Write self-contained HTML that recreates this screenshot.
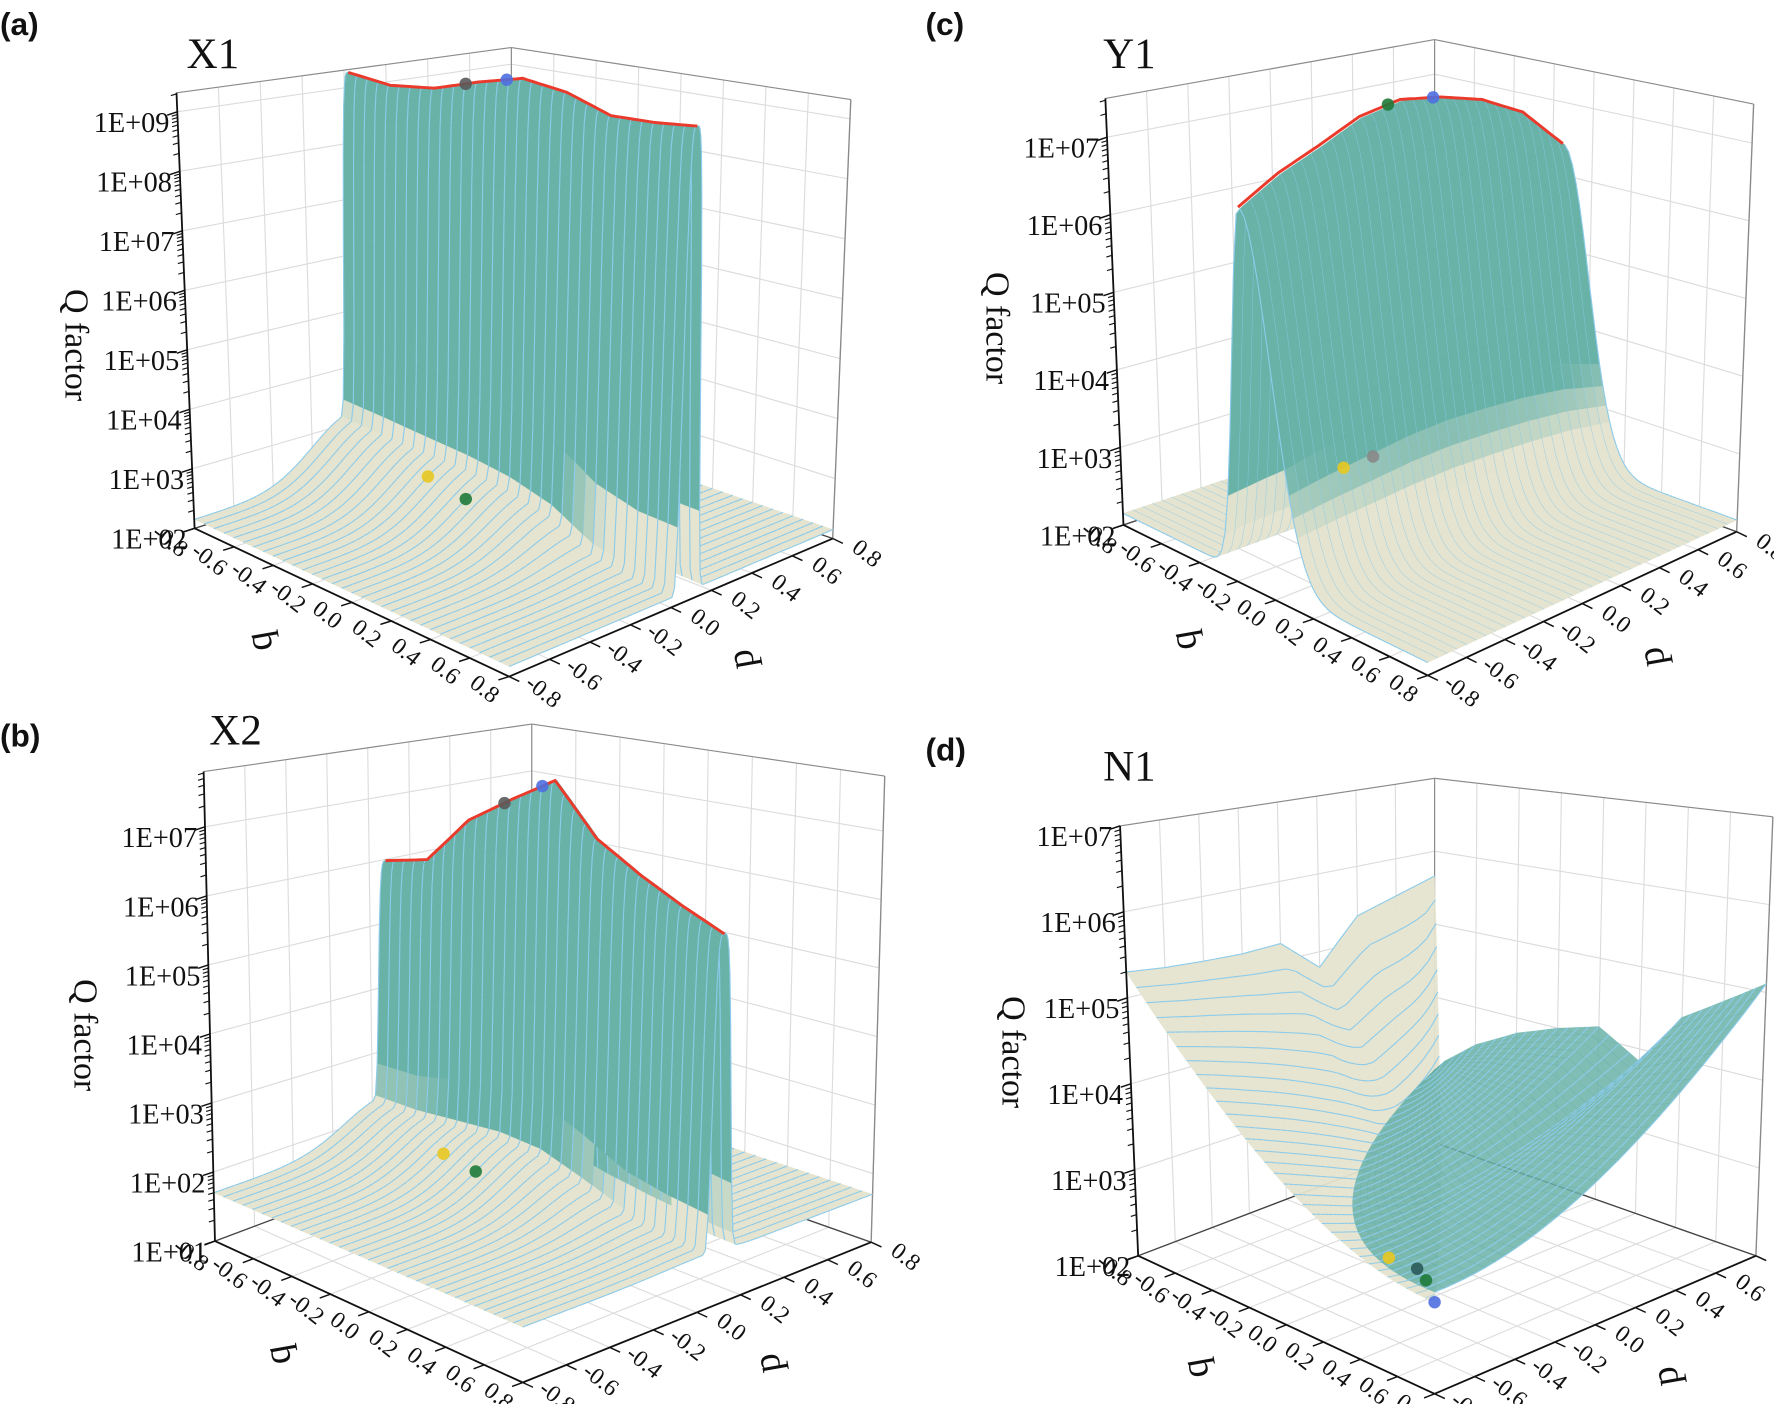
<!DOCTYPE html>
<html><head><meta charset="utf-8">
<style>
html,body{margin:0;padding:0;background:#fff;}
svg{display:block}
text{font-family:"Liberation Serif",serif;fill:#111;}
.lab{font-family:"Liberation Sans",sans-serif;font-weight:bold;font-size:28px;}
.ttl{font-size:38px;}
.qf{font-size:30px;}
</style></head>
<body>
<svg id="fig" width="1774" height="1404" viewBox="0 0 1568 1241" preserveAspectRatio="none" xmlns="http://www.w3.org/2000/svg">
<rect x="0" y="0" width="1568" height="1241" fill="#fff"/>
<g id="pa"></g>
<g id="pb"></g>
<g id="pc"></g>
<g id="pd"></g>
<text class="lab" x="0" y="31">(a)</text>
<text class="lab" x="0" y="660">(b)</text>
<text class="lab" x="818" y="31">(c)</text>
<text class="lab" x="818" y="672">(d)</text>
<text class="ttl" x="165" y="60">X1</text>
<text class="ttl" x="185" y="658">X2</text>
<text class="ttl" x="975" y="60">Y1</text>
<text class="ttl" x="975" y="690">N1</text>
<text class="qf" text-anchor="middle" transform="translate(58,305) rotate(90)">Q factor</text>
<text class="qf" text-anchor="middle" transform="translate(66,915) rotate(90)">Q factor</text>
<text class="qf" text-anchor="middle" transform="translate(872,290) rotate(90)">Q factor</text>
<text class="qf" text-anchor="middle" transform="translate(886,930) rotate(90)">Q factor</text>
</svg>
<script>
const NS='http://www.w3.org/2000/svg';

// ---- shared axis data ----
const qTickVals=[-0.8,-0.6,-0.4,-0.2,0,0.2,0.4,0.6,0.8];
const qTickLabels=['-0.8','-0.6','-0.4','-0.2','0.0','0.2','0.4','0.6','0.8'];
const pTickVals=[-0.8,-0.6,-0.4,-0.2,0,0.2,0.4,0.6,0.8];
const pTickLabels=['-0.8','-0.6','-0.4','-0.2','0.0','0.2','0.4','0.6','0.8'];

// ---- panel a (X1) ----
const aZTickVals=[2,3,4,5,6,7,8,9];
const aZTickLabels=['1E+02','1E+03','1E+04','1E+05','1E+06','1E+07','1E+08','1E+09'];
const aRidgeQ=[-0.8,-0.6,-0.4,-0.2,0,0.2,0.4,0.6,0.8];
const aRidgeZ=[9.27,9.2,9.3,9.55,9.75,9.65,9.4,9.42,9.5];
const aRidgeP=[0.02,0.02,0.03,0.04,0.05,0.06,0.07,0.08,0.08];
const aSkirtZ=[3.2,3.15,3.1,3.05,2.95,2.75,2.35,2.2,2.15];
const aFloorZ=2.15;
const aMarkerQ=[-0.26,-0.07,-0.3,-0.1];
const aMarkerP=[0.04,0.045,-0.12,-0.13];
const aMarkerColor=['#5a5a5a','#4f6fe0','#e8c820','#1f7a3a'];

// ---- panel b (X2) ----
const bZTickVals=[1,2,3,4,5,6,7];
const bZTickLabels=['1E+01','1E+02','1E+03','1E+04','1E+05','1E+06','1E+07'];
const bRidgeQ=[-0.8,-0.6,-0.4,-0.2,0,0.2,0.4,0.6,0.8];
const bRidgeZ=[5.98,6.15,6.9,7.34,7.73,7.0,6.6,6.3,6.05];
const bRidgeP=[0.08,0.08,0.08,0.09,0.09,0.09,0.1,0.1,0.1];
const bSkirtZ=[2.3,2.3,2.35,2.4,2.35,2.15,1.9,1.8,1.75];
const bFloorZ=1.7;
const bMarkerQ=[-0.24,-0.06,-0.33,-0.15];
const bMarkerP=[0.09,0.09,-0.12,-0.14];
const bMarkerColor=['#5a5a5a','#4f6fe0','#e8c820','#1f7a3a'];

// ---- panel c (Y1) ----
const cZTickVals=[2,3,4,5,6,7];
const cZTickLabels=['1E+02','1E+03','1E+04','1E+05','1E+06','1E+07'];
const cRidgeP=[-0.8,-0.6,-0.4,-0.2,0,0.2,0.4,0.6,0.8];
const cRidgeZ=[6.68,6.98,7.2,7.45,7.55,7.46,7.3,7.0,6.43];
const cRidgeQ=-0.15;
const cFloorZ=2.15;
const cMarkerQ=[-0.15,-0.15,-0.25,-0.25];
const cMarkerP=[-0.06,0.16,-0.2,-0.05];
const cMarkerColor=['#1f7a3a','#4f6fe0','#e8c820','#888888'];

// ---- panel d (N1) ----
const dZTickVals=[2,3,4,5,6,7];
const dZTickLabels=['1E+02','1E+03','1E+04','1E+05','1E+06','1E+07'];
const dBeigeEdgeP=[-0.8,-0.6,-0.4,-0.2,0,0.2,0.4,0.6,0.8];
const dBeigeEdgeZ=[5.3,5.25,5.22,5.2,5.22,4.8,5.35,5.5,5.66];
const dTealEdgeQ=[-0.8,-0.6,-0.4,-0.2,0,0.2,0.4,0.6,0.8];
const dTealEdgeZ=[3.05,3.5,3.8,4.0,4.15,3.85,4.5,4.8,5.1];
const dMinZ=2.9;
const dValleyZ=3.0;
const dBoundaryPow=2.2;
const dMarkerQ=[0.45,0.6,0.7,0.8];
const dMarkerP=[-0.7,-0.7,-0.75,-0.8];
const dMarkerColor=['#e8c820','#2a5a5a','#1f7a3a','#4f6fe0'];

// ---- geometry (layout only) ----
function geom(o){
  const r=o.zTop-o.zMin;
  o.hL=(o.L[1]-o.Lt[1])/r;o.dL=(o.Lt[0]-o.L[0])/r;
  o.hB=(o.B[1]-o.Bt[1])/r;o.dB=(o.Bt[0]-o.B[0])/r;
  o.hR=(o.R[1]-o.Rt[1])/r;o.dR=(o.Rt[0]-o.R[0])/r;
  o.dF=0;return o;
}
const geomA=geom({L:[172,467],Lt:[156,82],B:[452,378],Bt:[452,42],R:[736,476],Rt:[752,88],F:[450,598],hF:59.5,zMin:2,zTop:9.32});
const geomB=geom({L:[190,1097],Lt:[180,682],B:[470,992],Bt:[470,640],R:[770,1098],Rt:[782,686],F:[462,1222],hF:70,zMin:1,zTop:7.8});
const geomC=geom({L:[993,464],Lt:[977,87],B:[1268,372],Bt:[1268,35],R:[1535,470],Rt:[1550,92],F:[1262,597],hF:76,zMin:2,zTop:7.5});
const geomD=geom({L:[1006,1110],Lt:[990,730],B:[1268,1010],Bt:[1268,688],R:[1552,1110],Rt:[1567,722],F:[1268,1232],hF:90,zMin:2,zTop:7});

function lin(xs,ys,x){
  if(x<=xs[0])return ys[0];
  for(let k=1;k<xs.length;k++){
    if(x<=xs[k]){const t=(x-xs[k-1])/(xs[k]-xs[k-1]);return ys[k-1]+t*(ys[k]-ys[k-1]);}
  }
  return ys[ys.length-1];
}
function clamp(x){return Math.max(0,Math.min(1,x));}

function mk(tag,parent,name){
  const el=document.createElementNS(NS,tag);
  
  
  parent.appendChild(el);
  return el;
}
function set(el,o){for(const k in o)el.setAttribute(k,o[k]);return el;}

function proj(g,q,p,z){
  const u=(q+0.8)/1.6,v=(p+0.8)/1.6;
  const wL=(1-u)*(1-v),wF=u*(1-v),wR=u*v,wB=(1-u)*v;
  const x=wL*g.L[0]+wF*g.F[0]+wR*g.R[0]+wB*g.B[0];
  const y0=wL*g.L[1]+wF*g.F[1]+wR*g.R[1]+wB*g.B[1];
  const h=wL*g.hL+wF*g.hF+wR*g.hR+wB*g.hB;
  const dx=wL*g.dL+wF*g.dF+wR*g.dR+wB*g.dB;
  const dz=z-g.zMin;
  return [x+dz*dx,y0-dz*h];
}
function seg(parent,name,a,b,stroke,w){
  return set(mk('line',parent,name),{x1:a[0].toFixed(1),y1:a[1].toFixed(1),x2:b[0].toFixed(1),y2:b[1].toFixed(1),stroke:stroke,'stroke-width':w});
}
function pts(arr){return arr.map(p=>p[0].toFixed(1)+','+p[1].toFixed(1)).join(' ');}

function drawBox(root,g,zVals){
  const z0=g.zMin,zt=g.zTop;
  const box=mk('g',root,'axes-box');
  set(mk('polygon',box,'left-back-wall'),{points:pts([proj(g,-0.8,-0.8,z0),proj(g,-0.8,0.8,z0),proj(g,-0.8,0.8,zt),proj(g,-0.8,-0.8,zt)]),fill:'#fff'});
  set(mk('polygon',box,'right-back-wall'),{points:pts([proj(g,-0.8,0.8,z0),proj(g,0.8,0.8,z0),proj(g,0.8,0.8,zt),proj(g,-0.8,0.8,zt)]),fill:'#fff'});
  const gc='#dcdcdc';
  for(let i=0;i<pTickVals.length;i++){
    seg(box,'left-wall-gridline',proj(g,-0.8,pTickVals[i],z0),proj(g,-0.8,pTickVals[i],zt),gc,1);
    seg(box,'floor-gridline',proj(g,-0.8,pTickVals[i],z0),proj(g,0.8,pTickVals[i],z0),gc,1);
  }
  for(let i=0;i<qTickVals.length;i++){
    seg(box,'right-wall-gridline',proj(g,qTickVals[i],0.8,z0),proj(g,qTickVals[i],0.8,zt),gc,1);
    seg(box,'floor-gridline',proj(g,qTickVals[i],-0.8,z0),proj(g,qTickVals[i],0.8,z0),gc,1);
  }
  for(let i=0;i<zVals.length;i++){
    seg(box,'left-wall-gridline',proj(g,-0.8,-0.8,zVals[i]),proj(g,-0.8,0.8,zVals[i]),gc,1);
    seg(box,'right-wall-gridline',proj(g,-0.8,0.8,zVals[i]),proj(g,0.8,0.8,zVals[i]),gc,1);
  }
  const ec='#8a8a8a';
  seg(box,'back-edge',proj(g,-0.8,0.8,z0),proj(g,-0.8,0.8,zt),ec,1);
  seg(box,'right-edge',proj(g,0.8,0.8,z0),proj(g,0.8,0.8,zt),ec,1.2);
  seg(box,'top-edge',proj(g,-0.8,-0.8,zt),proj(g,-0.8,0.8,zt),ec,1);
  seg(box,'top-edge',proj(g,-0.8,0.8,zt),proj(g,0.8,0.8,zt),ec,1);
  seg(box,'floor-back-edge',proj(g,-0.8,-0.8,z0),proj(g,-0.8,0.8,z0),'#444',1.2);
  seg(box,'floor-back-edge',proj(g,-0.8,0.8,z0),proj(g,0.8,0.8,z0),'#444',1.2);
}

function drawAxes(root,g,zVals,zLabels){
  const z0=g.zMin,zt=g.zTop;
  const ax=mk('g',root,'axes');
  seg(ax,'z-axis-line',proj(g,-0.8,-0.8,z0),proj(g,-0.8,-0.8,zt),'#111',1.6);
  seg(ax,'q-axis-line',proj(g,-0.8,-0.8,z0),proj(g,0.8,-0.8,z0),'#111',1.6);
  seg(ax,'p-axis-line',proj(g,0.8,-0.8,z0),proj(g,0.8,0.8,z0),'#111',1.6);
  for(let i=0;i<zVals.length;i++){
    const a=proj(g,-0.8,-0.8,zVals[i]);
    seg(ax,'z-tick',a,[a[0]-9,a[1]+3],'#111',1.3);
    const t=set(mk('text',ax,'z-tick-label'),{x:(a[0]-7).toFixed(1),y:(a[1]+18).toFixed(1),'text-anchor':'end','font-size':'25'});
    t.textContent=zLabels[i];
    for(let m=2;m<10;m++){
      const zz=zVals[i]+Math.log10(m);
      if(zz>zt)break;
      const b=proj(g,-0.8,-0.8,zz);
      seg(ax,'z-minor-tick',b,[b[0]-5,b[1]+1.5],'#111',1);
    }
  }
  let dx=g.L[0]-g.B[0],dy=g.L[1]-g.B[1],n=Math.hypot(dx,dy);dx/=n;dy/=n;
  for(let i=0;i<qTickVals.length;i++){
    const a=proj(g,qTickVals[i],-0.8,z0);
    seg(ax,'q-tick',a,[a[0]+dx*10,a[1]+dy*10],'#111',1.3);
    const cx=a[0]+dx*27,cy=a[1]+dy*27+8;
    const t=set(mk('text',ax,'q-tick-label'),{x:0,y:0,'text-anchor':'middle','font-size':'21',transform:'translate('+cx.toFixed(1)+','+cy.toFixed(1)+') rotate(38)'});
    t.textContent=qTickLabels[i];
  }
  let mq=proj(g,0,-0.8,z0);
  const tq=set(mk('text',ax,'q-axis-title'),{x:0,y:0,'text-anchor':'middle','font-size':'34',transform:'translate('+(mq[0]+dx*75).toFixed(1)+','+(mq[1]+dy*75+10).toFixed(1)+') rotate(-100)'});
  tq.textContent='q';
  let ex=g.F[0]-g.L[0],ey=g.F[1]-g.L[1];n=Math.hypot(ex,ey);ex/=n;ey/=n;
  for(let i=0;i<pTickVals.length;i++){
    const a=proj(g,0.8,pTickVals[i],z0);
    seg(ax,'p-tick',a,[a[0]+ex*10,a[1]+ey*10],'#111',1.3);
    const cx=a[0]+ex*29,cy=a[1]+ey*29+6;
    const t=set(mk('text',ax,'p-tick-label'),{x:0,y:0,'text-anchor':'middle','font-size':'21',transform:'translate('+cx.toFixed(1)+','+cy.toFixed(1)+') rotate(38)'});
    t.textContent=pTickLabels[i];
  }
  let mp=proj(g,0.8,0,z0);
  const tp=set(mk('text',ax,'p-axis-title'),{x:0,y:0,'text-anchor':'middle','font-size':'34',transform:'translate('+(mp[0]+ex*80).toFixed(1)+','+(mp[1]+ey*80+10).toFixed(1)+') rotate(-100)'});
  tp.textContent='p';
}

const BEIGE=[229,228,208],TEAL=[104,178,168];
function mix(w){return 'rgb('+[0,1,2].map(k=>Math.round(BEIGE[k]+(TEAL[k]-BEIGE[k])*w)).join(',')+')';}

function drawPatch(sg,g,mapFn,zFn,wFn,na,nb,mode,opac,tealLast){
  const N=[];
  for(let i=0;i<na;i++){N.push([]);
    for(let j=0;j<nb;j++){
      const qp=mapFn(i/(na-1),j/(nb-1));
      const z=zFn(qp[0],qp[1]);
      N[i].push({q:qp[0],p:qp[1],z:z,w:wFn(qp[0],qp[1],z),P:proj(g,qp[0],qp[1],z)});
    }}
  const quads=[];
  for(let i=0;i<na-1;i++)for(let j=0;j<nb-1;j++){
    const a=N[i][j],b=N[i+1][j],c=N[i+1][j+1],d=N[i][j+1];
    const q=(a.q+c.q)/2,p=(a.p+c.p)/2;
    const w=Math.max(a.w,b.w,c.w,d.w);
    quads.push([q-p+(tealLast&&w>0.5?100:0),i,j,w]);
  }
  quads.sort((x,y)=>x[0]-y[0]);
  for(const qd of quads){
    const i=qd[1],j=qd[2],w=qd[3];
    const a=N[i][j],b=N[i+1][j],c=N[i+1][j+1],d=N[i][j+1];
    const poly=mk('polygon',sg,'surface-cell');
    set(poly,{points:pts([a.P,b.P,c.P,d.P]),fill:mix(w),'fill-opacity':String(opac),stroke:mix(w),'stroke-opacity':'0.5','stroke-width':'0.5'});
    if(mode==='a'){
      seg(sg,'mesh-line',a.P,d.P,'#8ccbea',1);
      if(i+1===na-1)seg(sg,'mesh-line',b.P,c.P,'#8ccbea',1);
    }else{
      seg(sg,'mesh-line',a.P,b.P,'#8ccbea',1);
      if(j+1===nb-1)seg(sg,'mesh-line',d.P,c.P,'#8ccbea',1);
    }
  }
}
function idMap(a,b){return [-0.8+1.6*a,-0.8+1.6*b];}
function ridgeMap(ridgeQ,ridgeP){
  return function(a,b){
    const q=-0.8+1.6*a;
    const pc=lin(ridgeQ,ridgeP,q);
    const t=2*b-1;
    const p=t<0?pc-(pc+0.8)*Math.pow(-t,2.5):pc+(0.8-pc)*Math.pow(t,2.5);
    return [q,p];
  };
}

function drawRidge(root,g,list){
  const pl=mk('polyline',root,'ridge-line');
  set(pl,{points:pts(list.map(a=>proj(g,a[0],a[1],a[2]))),fill:'none',stroke:'#ea3a2c','stroke-width':'2.6'});
}
function drawMarkers(root,g,qs,ps,cols,surf){
  for(let k=0;k<qs.length;k++){
    const a=proj(g,qs[k],ps[k],surf(qs[k],ps[k]));
    const c=mk('circle',root,'marker-point');
    set(c,{cx:a[0].toFixed(1),cy:a[1].toFixed(1),r:'5.5',fill:cols[k],'fill-opacity':'0.9'});
  }
}

// ---- surface models (built from the arrays above) ----
function surfA(q,p){
  const pc=lin(aRidgeQ,aRidgeP,q),r=lin(aRidgeQ,aRidgeZ,q),s=lin(aRidgeQ,aSkirtZ,q);
  const dp=p-pc;
  const sk=dp<0?Math.exp(-Math.pow(dp/0.3,2)):Math.exp(-Math.pow(dp/0.08,2));
  const fl=aFloorZ+(s-aFloorZ)*sk;
  return fl+(r-fl)*Math.exp(-Math.pow(dp/0.045,4));
}
function surfB(q,p){
  const pc=lin(bRidgeQ,bRidgeP,q),r=lin(bRidgeQ,bRidgeZ,q),s=lin(bRidgeQ,bSkirtZ,q);
  const dp=p-pc;
  const sk=dp<0?Math.exp(-Math.pow(dp/0.3,2)):Math.exp(-Math.pow(dp/0.08,2));
  const fl=bFloorZ+(s-bFloorZ)*sk;
  return fl+(r-fl)*Math.exp(-Math.pow(dp/0.045,4));
}
function surfC(q,p){
  const r=lin(cRidgeP,cRidgeZ,p);
  const dq=q-cRidgeQ;
  const f=dq<0?Math.exp(-Math.pow(dq/0.07,2)):Math.exp(-Math.pow(dq/0.2,2));
  return cFloorZ+(r-cFloorZ)*f;
}
function dVb(u){return Math.pow(1-u,dBoundaryPow);}
function dBeigeZ(q,p){
  const u=(q+0.8)/1.6,v=(p+0.8)/1.6;
  const s=(1-v)>1e-9?Math.min(1,u/(1-v)):0;
  const eTop=dBeigeEdgeZ[dBeigeEdgeZ.length-1];
  const m=dMinZ+(eTop-dMinZ)*Math.pow(Math.max(0,2*v-1),1.6);
  const e=lin(dBeigeEdgeP,dBeigeEdgeZ,p);
  return m+(e-m)*(1-s)*(1-s);
}
function dTealZ(q,p){
  const u=(q+0.8)/1.6,v=(p+0.8)/1.6;
  const vb=dVb(u);
  const t=(1-vb)>1e-9?clamp((v-vb)/(1-vb)):0;
  const e=lin(dTealEdgeQ,dTealEdgeZ,q);
  return dValleyZ+(e-dValleyZ)*t*t;
}
function surfD(q,p){
  const u=(q+0.8)/1.6,v=(p+0.8)/1.6;
  return v>dVb(u)?dTealZ(q,p):dBeigeZ(q,p);
}
function beigeMap(a,b){const u=a;const v=b*(1-u);return [-0.8+1.6*u,-0.8+1.6*v];}
function tealMap(a,b){const u=a;const vb=dVb(u);const v=vb+b*(1-vb);return [-0.8+1.6*u,-0.8+1.6*v];}

const ridgeA=[],ridgeB=[],ridgeC=[];
for(let k=0;k<=64;k++){
  const q=-0.8+1.6*k/64;
  ridgeA.push([q,lin(aRidgeQ,aRidgeP,q),lin(aRidgeQ,aRidgeZ,q)]);
  ridgeB.push([q,lin(bRidgeQ,bRidgeP,q),lin(bRidgeQ,bRidgeZ,q)]);
  ridgeC.push([cRidgeQ,q,lin(cRidgeP,cRidgeZ,q)]);
}

(function(){
  const r=document.getElementById('pa');
  drawBox(r,geomA,aZTickVals);
  const sg=mk('g',r,'surface');
  drawPatch(sg,geomA,ridgeMap(aRidgeQ,aRidgeP),surfA,(q,p,z)=>clamp((z-3.4)/0.5),33,81,'a',1,true);
  drawRidge(r,geomA,ridgeA);
  drawMarkers(r,geomA,aMarkerQ,aMarkerP,aMarkerColor,surfA);
  drawAxes(r,geomA,aZTickVals,aZTickLabels);
})();
(function(){
  const r=document.getElementById('pb');
  drawBox(r,geomB,bZTickVals);
  const sg=mk('g',r,'surface');
  drawPatch(sg,geomB,ridgeMap(bRidgeQ,bRidgeP),surfB,(q,p,z)=>clamp((z-2.5)/0.5),33,81,'a',1,true);
  drawRidge(r,geomB,ridgeB);
  drawMarkers(r,geomB,bMarkerQ,bMarkerP,bMarkerColor,surfB);
  drawAxes(r,geomB,bZTickVals,bZTickLabels);
})();
(function(){
  const r=document.getElementById('pc');
  drawBox(r,geomC,cZTickVals);
  const sg=mk('g',r,'surface');
  drawPatch(sg,geomC,idMap,surfC,(q,p,z)=>clamp((z-3.0)/0.8),81,33,'b',1,false);
  drawRidge(r,geomC,ridgeC);
  drawMarkers(r,geomC,cMarkerQ,cMarkerP,cMarkerColor,surfC);
  drawAxes(r,geomC,cZTickVals,cZTickLabels);
})();
(function(){
  const r=document.getElementById('pd');
  drawBox(r,geomD,dZTickVals);
  const sg=mk('g',r,'surface');
  drawPatch(sg,geomD,beigeMap,dBeigeZ,()=>0,33,33,'a',0.95,false);
  drawMarkers(r,geomD,dMarkerQ,dMarkerP,dMarkerColor,surfD);
  drawPatch(sg,geomD,tealMap,dTealZ,()=>1,33,33,'a',0.85,false);
  drawAxes(r,geomD,dZTickVals,dZTickLabels);
})();
</script>
</body></html>
